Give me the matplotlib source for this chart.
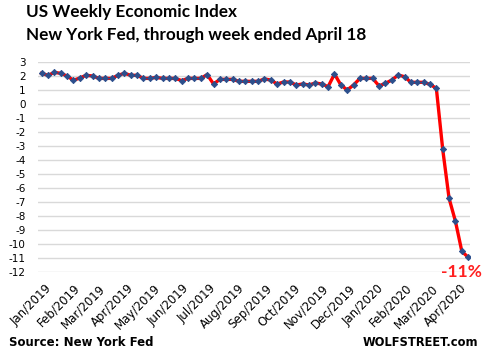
import matplotlib
matplotlib.use("Agg")
import matplotlib.pyplot as plt
import matplotlib.transforms as mtransforms
import pandas as pd

plt.rcParams['axes.unicode_minus'] = False

# Week-ending dates (weekly, Saturday)
start_week = "2019-01-05"
n_weeks = 68
weeks = pd.date_range(start_week, periods=n_weeks, freq="7D")

# Weekly Economic Index values
wei = [2.19, 2.05, 2.26, 2.19, 2.00, 1.69, 1.86, 2.05, 2.00, 1.83,
       1.83, 1.83, 2.05, 2.19, 2.05, 2.05, 1.83, 1.83, 1.90, 1.83,
       1.83, 1.83, 1.67, 1.83, 1.83, 1.83, 2.10, 1.43, 1.76, 1.76,
       1.76, 1.62, 1.62, 1.62, 1.62, 1.79, 1.71, 1.43, 1.57, 1.57,
       1.36, 1.43, 1.36, 1.50, 1.43, 1.24, 2.14, 1.36, 1.00, 1.36,
       1.83, 1.83, 1.83, 1.29, 1.48, 1.71, 2.07, 1.95, 1.55, 1.55,
       1.55, 1.40, 1.12, -3.24, -6.74, -8.38, -10.52, -10.95]

y_ticks = list(range(-12, 4))
month_ticks = pd.date_range("2019-01-01", "2020-04-01", freq="MS")
month_labels = [d.strftime("%b/%Y") for d in month_ticks]

title_lines = ["US Weekly Economic Index", "New York Fed, through week ended April 18"]
callout = "-11%"
source = "Source: New York Fed"
brand = "WOLFSTREET.com"

W, H = 487, 355
fig = plt.figure(figsize=(W / 100, H / 100), dpi=100)
ax = fig.add_axes([38 / W, 1 - 272 / H, (470 - 38) / W, (272 - 62) / H])

ax.plot(weeks, wei, color="#ff0000", lw=2.4, zorder=3,
        marker="D", markersize=3.2, markerfacecolor="#2c4f8c",
        markeredgecolor="#2c4f8c", markeredgewidth=0.6)

ax.set_ylim(-12, 3)
ax.set_yticks(y_ticks)
ax.set_xlim(pd.Timestamp("2019-01-01"), pd.Timestamp("2020-04-20"))
ax.set_xticks(month_ticks)
ax.set_xticklabels(month_labels, rotation=45, ha="right", rotation_mode="anchor")

ax.grid(axis="y", color="#d9d9d9", lw=1.0)
ax.grid(axis="x", visible=False)
for s in ax.spines.values():
    s.set_visible(False)
ax.tick_params(axis="both", length=0, colors="black")
ax.tick_params(axis="y", pad=9, labelsize=7.5)
ax.tick_params(axis="x", pad=7, labelsize=8.5)
ax.set_axisbelow(True)

offset = mtransforms.ScaledTranslation(7 / 100, 0, fig.dpi_scale_trans)
for lbl in ax.get_xticklabels():
    lbl.set_transform(lbl.get_transform() + offset)

fig.text(26 / W, 1 - 17 / H, title_lines[0], fontsize=12.3, fontweight="bold",
         family="Lato", va="baseline", ha="left")
fig.text(26 / W, 1 - 40 / H, title_lines[1], fontsize=12.3, fontweight="bold",
         family="Lato", va="baseline", ha="left")

fig.text(461 / W, 1 - 277 / H, callout, fontsize=12.5, fontweight="bold",
         family="Lato", color="#ff2020", ha="center", va="baseline")

fig.text(9 / W, 1 - 346 / H, source, fontsize=8.5, fontweight="bold",
         family="DejaVu Sans", ha="left", va="baseline")
fig.text(478 / W, 1 - 346 / H, brand, fontsize=8.3, fontweight="bold",
         family="DejaVu Sans", ha="right", va="baseline")

fig.savefig("out.png", dpi=100)
